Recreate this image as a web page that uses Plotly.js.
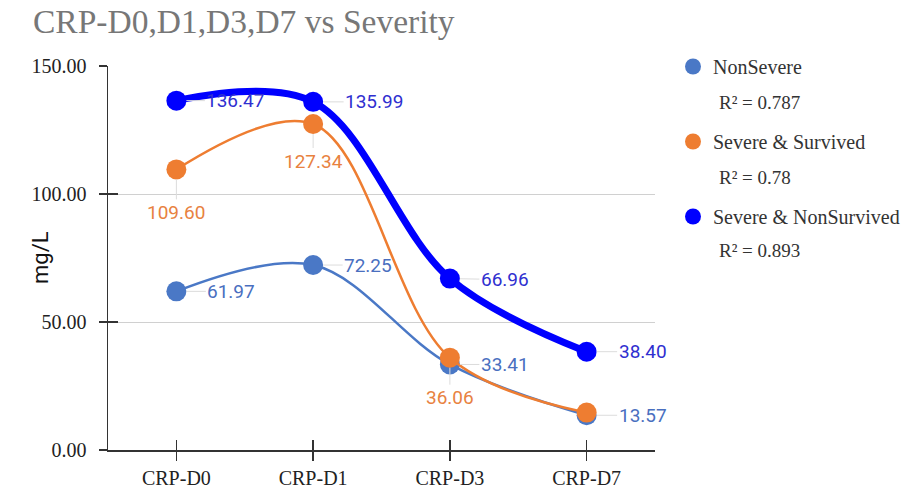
<!DOCTYPE html>
<html><head><meta charset="utf-8">
<script src="https://cdn.plot.ly/plotly-3.0.1.min.js"></script>
<style>html,body{margin:0;padding:0;background:#fff}#c{width:904px;height:496px}</style>
</head><body><div id="c"></div>
<script>
const categories = ["CRP-D0", "CRP-D1", "CRP-D3", "CRP-D7"];
const seriesNames = ["NonSevere", "Severe & Survived", "Severe & NonSurvived"];
const nonSevere = [61.97, 72.25, 33.41, 13.57];
const severeSurvived = [109.60, 127.34, 36.06, 14.6];
const severeNonSurvived = [136.47, 135.99, 66.96, 38.40];
const labelsNonSevere = ["61.97", "72.25", "33.41", "13.57"];
const labelsSevereSurvived = ["109.60", "127.34", "36.06", ""];
const labelsSevereNonSurvived = ["136.47", "135.99", "66.96", "38.40"];
const rSquared = ["R² = 0.787", "R² = 0.78", "R² = 0.893"];
const yTickVals = [0, 50, 100, 150];
const yTickText = ["0.00", "50.00", "100.00", "150.00"];

const colors = ["#4a78c6", "#ee7d31", "#0000ff"];
const labelColors = ["#4a6fbf", "#e8823f", "#2f2fd0"];
const widths = [2.5, 2.5, 7];
const allY = [nonSevere, severeSurvived, severeNonSurvived];
const allLabels = [labelsNonSevere, labelsSevereSurvived, labelsSevereNonSurvived];

const traces = allY.map((ys, i) => ({
  type: "scatter", mode: "lines+markers", name: seriesNames[i],
  x: categories, y: ys,
  line: {color: colors[i], width: widths[i], shape: "spline", smoothing: 1},
  marker: {color: colors[i], size: 20},
  showlegend: false,
  hoverinfo: "skip"
}));
// legend entries (marker only)
seriesNames.forEach((n, i) => {
  traces.push({type: "scatter", mode: "markers", name: n, x: [null], y: [null],
    marker: {color: colors[i], size: 20}, legendgroup: "g" + i, showlegend: true, hoverinfo: "skip"});
});

// label offsets (pixels) per series/point
const offsets = [
  [[55,0],[55,0],[55,0],[56,0]],
  [[0,43],[0,37],[0,40],[0,0]],
  [[59,0],[61,0],[55,1],[56,0]]
];
const annotations = [];
allY.forEach((ys, i) => {
  ys.forEach((v, j) => {
    if (!allLabels[i][j]) return;
    annotations.push({
      x: j, y: v, xref: "x", yref: "y", text: allLabels[i][j],
      showarrow: true, arrowhead: 0, arrowwidth: 1, arrowcolor: "#dcdcdc",
      standoff: 10, ax: offsets[i][j][0], ay: offsets[i][j][1],
      font: {family: "Roboto, Arial, sans-serif", size: 19, color: labelColors[i]}
    });
  });
});
const rY = [103, 177, 251];
rSquared.forEach((t, i) => {
  annotations.push({
    xref: "paper", yref: "paper", x: (717 - 108) / 547, y: 1 - (rY[i] - 66) / 384,
    xanchor: "left", yanchor: "middle", showarrow: false, text: t,
    font: {family: "Liberation Serif, Times New Roman, serif", size: 19, color: "#333"}
  });
});
annotations.push({
  xref: "paper", yref: "paper", x: (40 - 108) / 547, y: 1 - (258 - 66) / 384,
  xanchor: "center", yanchor: "middle", showarrow: false, text: "mg/L", textangle: -90,
  font: {family: "Roboto, Arial, sans-serif", size: 22, color: "#111"}
});

const layout = {
  width: 904, height: 496,
  margin: {l: 108, r: 249, t: 66, b: 46, autoexpand: false},
  paper_bgcolor: "#fff", plot_bgcolor: "#fff",
  title: {text: "CRP-D0,D1,D3,D7 vs Severity", x: 33 / 904, xanchor: "left", xref: "container",
          y: 1 - 21 / 496, yanchor: "middle", yref: "container",
          font: {family: "Liberation Serif, Times New Roman, serif", size: 33.5, color: "#777"}},
  xaxis: {type: "category", categoryarray: categories, range: [-0.5, 3.5],
          showline: true, linecolor: "#333", linewidth: 1.5, ticks: "outside", ticklen: 9,
          tickcolor: "#333", tickwidth: 1.5, showgrid: false, zeroline: false,
          tickfont: {family: "Liberation Serif, Times New Roman, serif", size: 20, color: "#222"}},
  xaxis2: {overlaying: "x", anchor: "y", range: [-0.5, 3.5], tickvals: [0, 1, 2, 3],
           ticks: "inside", ticklen: 10, tickcolor: "#333", tickwidth: 1.5,
           showticklabels: false, showgrid: false, zeroline: false, showline: false},
  yaxis: {range: [0, 150], tickvals: yTickVals, ticktext: yTickText,
          showline: true, linecolor: "#333", linewidth: 1.5, ticks: "outside", ticklen: 8,
          tickcolor: "#333", tickwidth: 1.5, ticklabelstandoff: 8,
          showgrid: true, gridcolor: "#d0d0d0", gridwidth: 1, zeroline: false,
          tickfont: {family: "Liberation Serif, Times New Roman, serif", size: 20, color: "#222"}},
  yaxis2: {overlaying: "y", anchor: "x", range: [0, 150], tickvals: yTickVals,
           ticks: "inside", ticklen: 10, tickcolor: "#333", tickwidth: 1.5,
           showticklabels: false, showgrid: false, zeroline: false, showline: false},
  showlegend: true,
  legend: {x: (673 - 108) / 547, xanchor: "left", y: 1 - (47 - 66) / 384, yanchor: "top",
           traceorder: "grouped", tracegroupgap: 46, bgcolor: "rgba(0,0,0,0)",
           font: {family: "Liberation Serif, Times New Roman, serif", size: 20, color: "#333"}},
  annotations: annotations,
  hovermode: false
};
// invisible helper trace so the overlay axes are drawn
traces.push({type: "scatter", x: [], y: [], xaxis: "x2", yaxis: "y2", showlegend: false, hoverinfo: "skip"});
Plotly.newPlot("c", traces, layout, {displayModeBar: false, staticPlot: true});
</script></body></html>
